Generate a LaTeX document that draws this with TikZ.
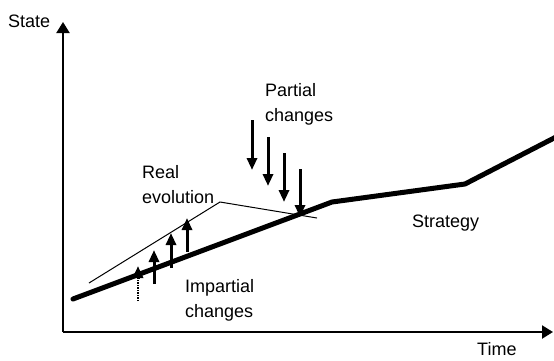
\documentclass[tikz,border=0pt]{standalone}
\usepackage{fontspec}
\setmainfont{Liberation Sans}
\usetikzlibrary{arrows.meta, positioning}
\tikzset{
    axis/.style={line width=2.2pt, -{Triangle[length=11pt, width=13pt]}},
    strat/.style={line width=5pt, line cap=round},
    real/.style={line width=1pt},
    chg/.style={line width=3pt, -{Triangle[length=12pt, width=10pt]}},
    lbl/.style={font=\fontsize{18}{25}\selectfont, align=left, inner sep=0pt,
                anchor=north west},
}
\begin{document}
\begin{tikzpicture}[x=1pt, y=-1pt]
    \useasboundingbox (0,0) rectangle (554,360);
    % axes
    \coordinate (orig) at (63,332);
    \coordinate (ytop) at (63,22);
    \coordinate (xend) at (553,332);
    \draw[axis] (orig) -- (ytop);
    \draw[axis] (orig) -- (xend);
    \node[lbl] (state) at (8,15) {State};
    \node[lbl] (time) at (477,342) {Time};

    % strategy
    \coordinate (s0) at (73,299);
    \coordinate (s1) at (332,202);
    \coordinate (s2) at (465,184);
    \coordinate (s3) at (556,137);
    \draw[strat] (s0) -- (s1) -- (s2) -- (s3);
    \node[lbl] (strategy) at (412,215) {Strategy};

    % real evolution
    \coordinate (r0) at (89,283);
    \coordinate (r1) at (220,202);
    \coordinate (r2) at (317,218);
    \draw[real] (r0) -- (r1) -- (r2);
    \node[lbl] (realevo) at (142,165) {Real\\evolution};

    % impartial changes
    \coordinate (u0) at (138,301);
    \coordinate (u0m) at (138,279);
    \coordinate (u0t) at (138,266);
    \draw[line width=1.5pt, densely dotted] (u0) -- (u0m);
    \draw[chg] (u0m) -- (u0t);
    \coordinate (u1) at (154,284);
    \coordinate (u1t) at (154,250);
    \draw[chg] (u1) -- (u1t);
    \coordinate (u2) at (171,268);
    \coordinate (u2t) at (171,233);
    \draw[chg] (u2) -- (u2t);
    \coordinate (u3) at (187,252);
    \coordinate (u3t) at (187,218);
    \draw[chg] (u3) -- (u3t);
    \node[lbl] (impartial) at (185,279) {Impartial\\changes};

    % partial changes
    \coordinate (d0) at (252,120);
    \coordinate (d0t) at (252,170);
    \draw[chg] (d0) -- (d0t);
    \coordinate (d1) at (268,137);
    \coordinate (d1t) at (268,186);
    \draw[chg] (d1) -- (d1t);
    \coordinate (d2) at (284,153);
    \coordinate (d2t) at (284,202);
    \draw[chg] (d2) -- (d2t);
    \coordinate (d3) at (300,169);
    \coordinate (d3t) at (300,217);
    \draw[chg] (d3) -- (d3t);
    \node[lbl] (partial) at (265,83) {Partial\\changes};
\end{tikzpicture}
\end{document}
